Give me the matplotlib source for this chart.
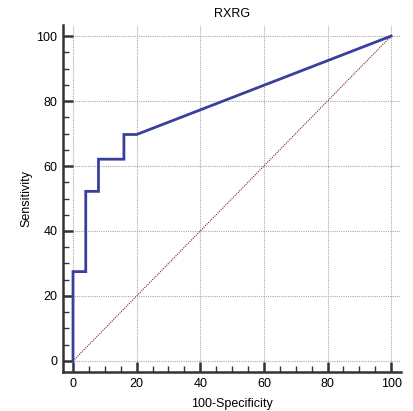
import matplotlib
matplotlib.use("Agg")
import matplotlib.pyplot as plt
from matplotlib.ticker import MultipleLocator

plt.rcParams['font.family'] = ['Liberation Sans', 'DejaVu Sans']

title = "RXRG"
fpr = [0, 0, 4, 4, 8, 8, 16, 16, 20, 100]
tpr = [0, 27.5, 27.5, 52.2, 52.2, 62.1, 62.1, 69.7, 69.7, 100]
diag = [0, 100]

fig = plt.figure(figsize=(4.13, 4.11), dpi=100)
ax = fig.add_axes([63/413, 1-372/411, (401-63)/413, (372-25)/411])
ax.set_xlim(-3.15, 103.1)
ax.set_ylim(-3.4, 103.4)

ax.grid(True, which='major', color='#a8a8a8', linestyle=(0, (1, 1)), linewidth=0.8)
ax.set_axisbelow(True)

ax.plot(diag, diag, color='#8b2020', linestyle=(0, (1, 1)), linewidth=0.8)
ax.plot(fpr, tpr, color='#3a3f9e', linewidth=2.0, solid_joinstyle='miter')

for s in ['top', 'right']:
    ax.spines[s].set_visible(False)
for s in ['left', 'bottom']:
    ax.spines[s].set_linewidth(1.8)
    ax.spines[s].set_color('#333333')

ax.xaxis.set_major_locator(MultipleLocator(20))
ax.yaxis.set_major_locator(MultipleLocator(20))
ax.xaxis.set_minor_locator(MultipleLocator(5))
ax.yaxis.set_minor_locator(MultipleLocator(5))
ax.tick_params(which='major', direction='in', length=7.5, width=1.8, color='#333333', labelsize=9, pad=4)
ax.tick_params(which='minor', direction='in', length=4, width=1.0, color='#333333')
ax.tick_params(axis='y', pad=4)

ax.set_title(title, fontsize=9, pad=6)
ax.set_xlabel("100-Specificity", fontsize=9, labelpad=6)
ax.set_ylabel("Sensitivity", fontsize=9, labelpad=3)

fig.savefig("out.png", dpi=100)
